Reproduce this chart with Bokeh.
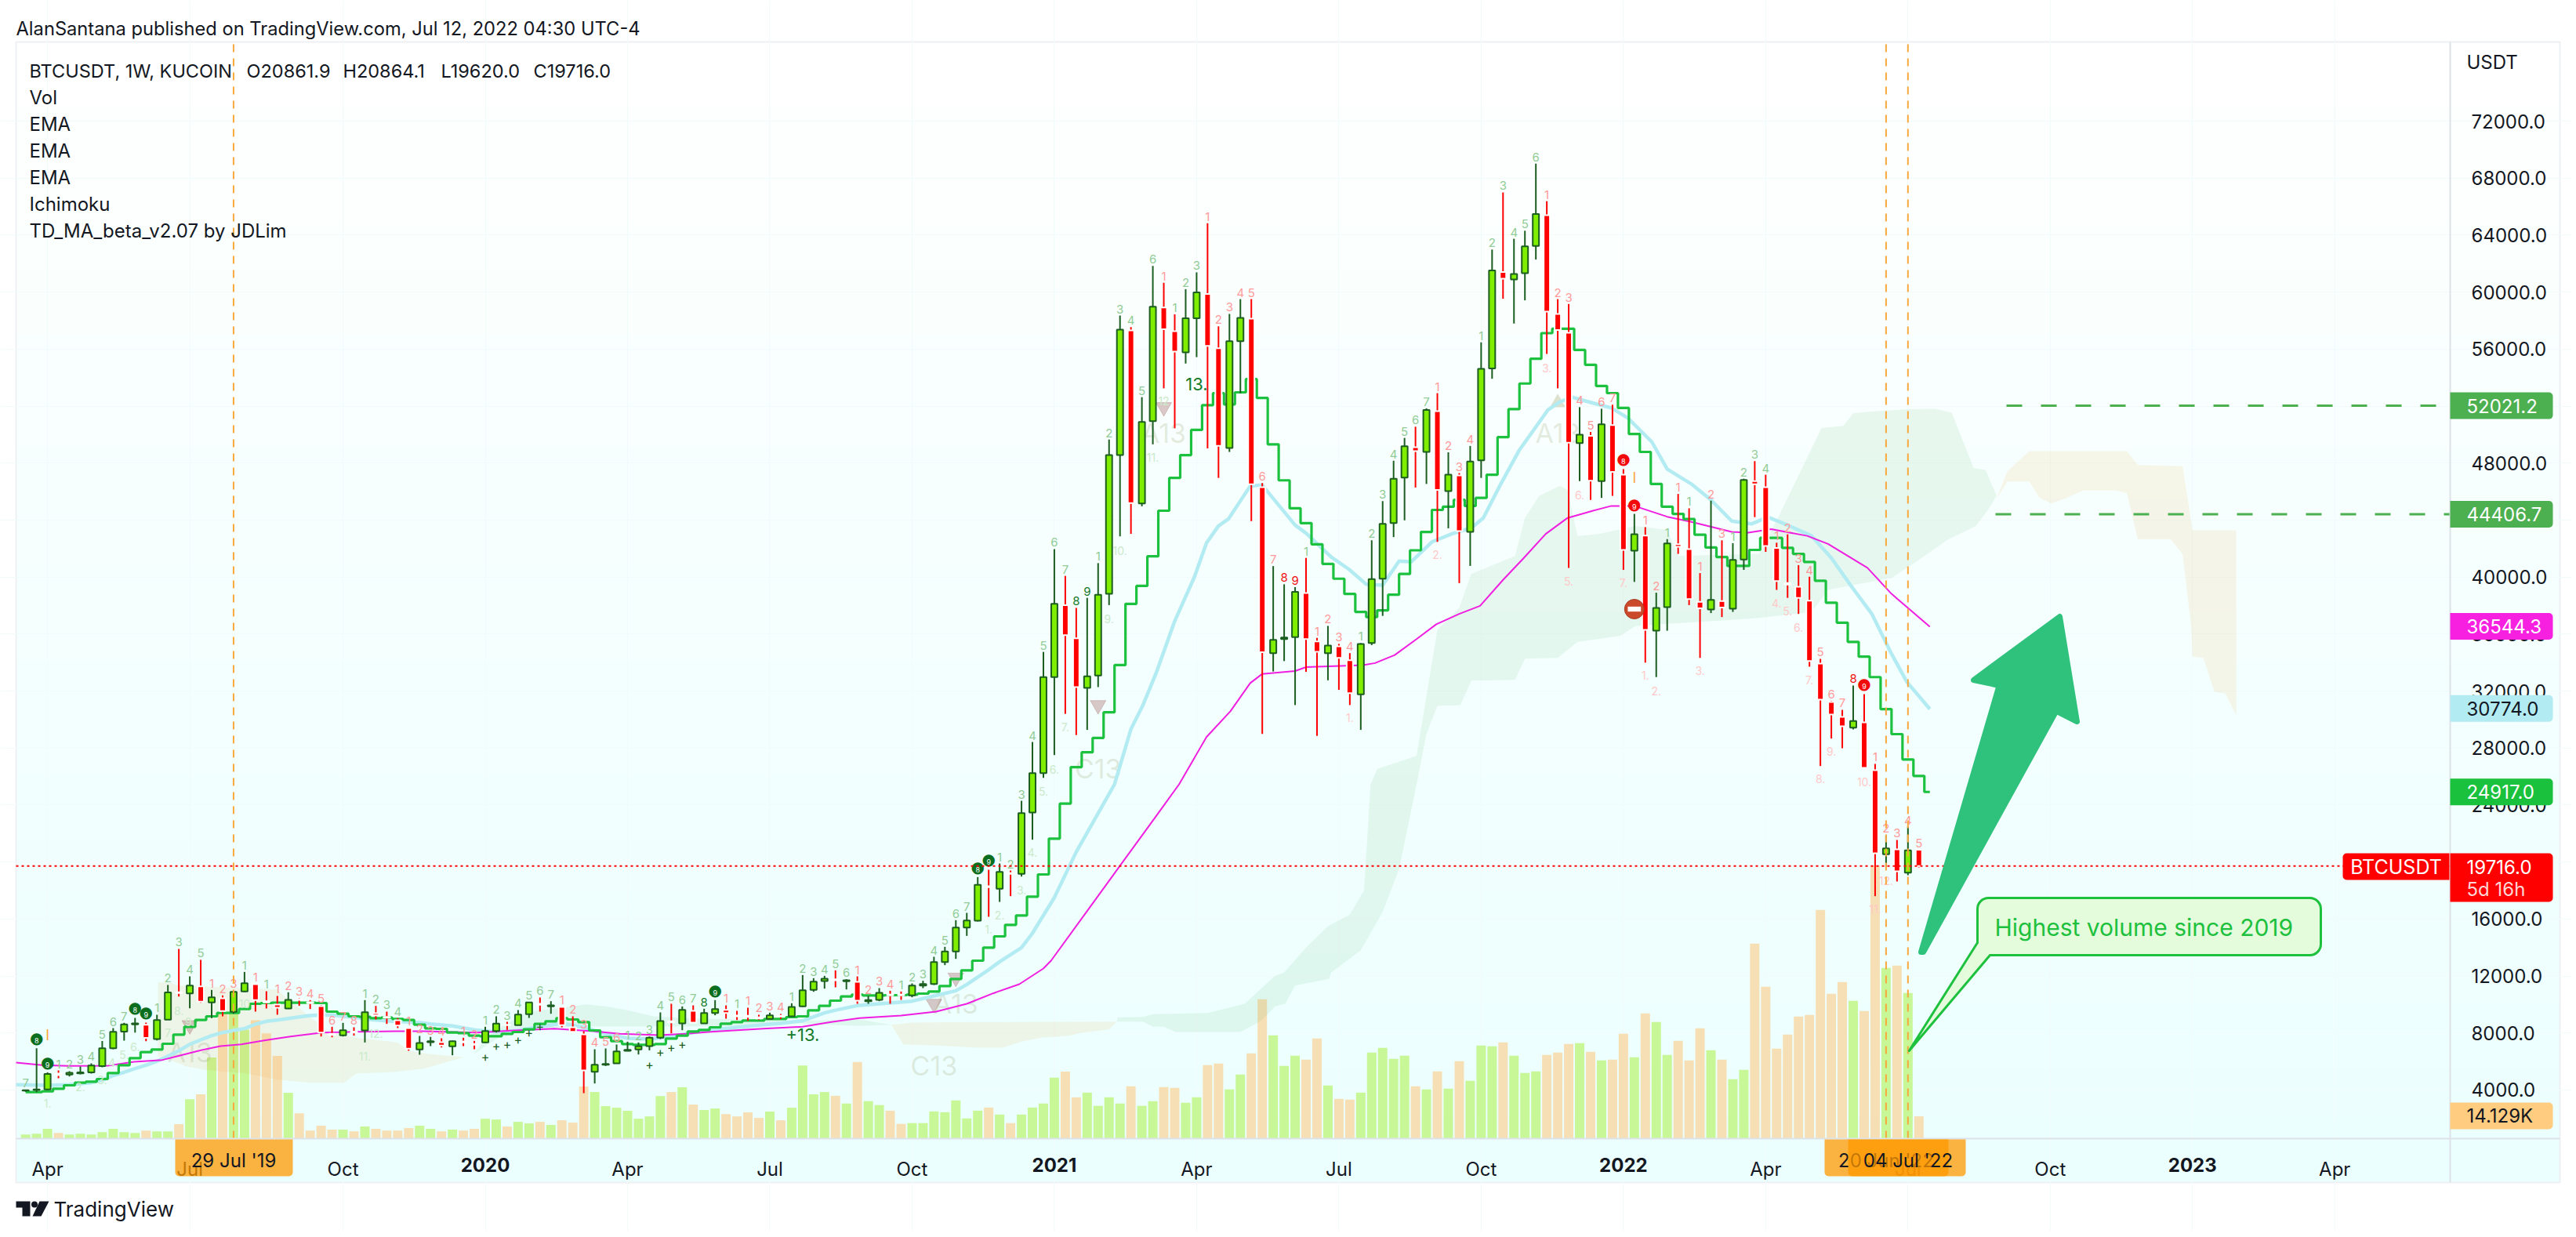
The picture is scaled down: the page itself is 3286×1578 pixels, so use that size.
from bokeh.plotting import figure
from bokeh.models import Range1d, LinearAxis, FixedTicker, NumeralTickFormatter, Grid
from bokeh.core.properties import value
from bokeh.embed import file_html
from bokeh.resources import INLINE

FONT = "Inter"

# ---------- data (week index 0 = first visible week, 172 = 04 Jul '22) ----------
opens = [3950,4000,4030,5150,5080,5170,5240,5680,6930,8100,8600,8580,7570,8930,10855,10780,11277,10140,10430,9480,
10910,11423,10230,9993,9720,10378,10158,9883,7940,7830,8100,8177,9388,9130,8892,8342,6840,7350,7350,7058,
7407,7223,7334,8140,8581,8544,9314,10048,9864,9828,8397,7902,5279,5775,5866,6747,6838,7077,7664,8819,
8672,9553,8672,9406,9626,9223,9204,9094,8984,9204,9168,9864,11020,11643,11771,11624,11588,10230,10322,10689,
10689,10634,11331,11441,12981,13715,15402,15879,18300,18117,19217,19162,23472,26241,32978,38031,35701,32220,33090,38817,
48557,57315,45160,50943,58915,57258,55771,58157,59869,56052,49062,56557,58129,46311,34662,35644,35785,38873,35476,34662,
35139,34157,31771,35364,39884,43785,46985,49118,48781,51645,46030,47125,43167,48192,54648,61413,60880,61329,63238,65399,
58466,57146,49399,49905,46732,50662,47181,41848,42915,36234,37890,42298,41960,38255,37722,38311,37778,41231,46732,46311,
42045,39575,39322,38340,33926,31230,30185,29433,29800,26444,20538,20887,19254,20862]
highs = [4010,6930,5240,5370,5320,5650,5870,7440,8340,8710,9060,8730,9280,11370,13900,11975,13130,11020,10635,11000,
12285,11450,10928,10598,10855,10450,10305,9956,8434,8710,8400,10305,9900,9498,9040,8380,7792,7720,7627,7460,
7664,7443,8434,9168,8782,9608,10158,10488,10231,9864,9168,8122,6857,6912,7187,7389,7333,7755,9443,10048,
9864,9938,9700,10305,9938,9553,9773,9278,9424,9333,10084,12065,11845,12010,12395,11771,11973,10597,11148,10964,
10909,11478,11661,13348,14045,15916,16429,18942,19456,19895,19400,24297,28424,34745,41960,40080,37834,38536,40978,49652,
58353,57540,52627,61834,60655,58438,60206,61385,64837,57595,58466,59504,59504,46592,40768,39490,39293,41343,35729,36571,
35307,34662,35364,42578,45329,48164,49764,50550,51841,52908,48754,47294,49202,56473,62985,67000,63743,64304,69020,66381,
59504,59167,51925,50185,51813,52094,47574,44431,43504,38901,42662,45834,44824,40276,45357,42578,42381,46901,48136,47181,
42409,42998,40838,40024,34257,31300,30680,32386,31781,26884,21877,21547,22482,20864]
lows = [3870,3850,4000,4820,4950,5100,5150,5590,6860,7460,8030,7425,7480,8930,10560,9735,10120,9040,9167,9350,
10873,9500,9718,9280,9680,9900,9680,7755,7700,7755,7810,7333,8947,8636,8342,6747,6472,7077,6985,6435,
7077,6857,7297,8030,8214,8544,9057,9498,9351,8397,8067,3776,4454,5683,5866,6710,6490,6783,7572,7975,
8196,8709,8654,9241,9002,8911,8856,8911,8966,8984,9131,9828,10891,11112,11202,11056,10047,10047,10230,10047,
10322,10505,11148,11367,12762,13201,14815,15824,16154,17200,17603,18978,21565,25905,27504,30395,28908,29272,32276,38031,
42859,43027,44965,49314,53244,50438,54985,55434,49034,46957,48781,52908,43925,28991,33371,34101,31014,33344,28851,32753,
32080,31014,29272,35224,37273,42803,43981,46283,46536,42466,43420,39574,40781,46957,53918,59533,57792,59420,62283,55659,
53245,40642,46732,45413,45554,45694,40502,39659,33990,32978,36234,41624,38031,34325,37470,37189,37554,40502,44206,41764,
39097,38536,37412,33708,26737,28663,27984,29305,26609,17604,19621,18631,19071,19620]
closes = [3985,4030,5130,5040,5210,5240,5720,6930,8085,8600,8670,7660,8910,10840,10800,11330,10195,10506,9534,10890,
11497,10305,10140,9773,10323,10323,10085,8030,7865,8196,8030,9461,9240,9076,8526,6893,7297,7425,7114,7425,
7334,7168,8140,8654,8544,9296,10140,9974,9938,8544,8085,5371,5775,5830,6710,6820,7058,7664,8837,8745,
9626,8727,9406,9681,9406,9168,9131,9021,9241,9149,9828,11002,11607,11808,11698,11698,10267,10304,10818,10634,
10634,11331,11441,12981,13715,15402,15897,18392,18227,19309,19162,23435,26241,32978,38115,35925,32276,33034,38761,48557,
57371,45188,50887,58971,57399,55827,58157,59981,56220,49202,56557,58185,46508,34718,35588,35756,38957,35644,34745,35196,
34326,31855,35307,39856,43729,46901,49175,48838,51729,46115,47181,43224,48108,54620,61525,60936,61273,63210,65483,58634,
57343,49427,49989,46760,50718,47378,41904,43000,36290,37834,42353,42129,38452,37807,38396,37863,41203,46817,46508,42185,
39715,39463,38536,34101,31396,30350,29525,29892,26609,20612,20960,19346,20813,19716]
volume_k = [2.5,3.0,6.1,3.5,2.5,3.0,2.5,4.0,6.1,4.0,3.5,5.0,4.5,4.5,9.1,25.2,28.3,52,81,81,70,76,67.6,53,29.3,16.1,5,8.1,5.6,5.6,4.5,7.6,6.1,5,5,6.6,8.1,
6.1,4.5,5.6,5,6.1,12.6,12.1,7.6,10.6,9.6,10.6,8.6,11.6,10.1,33.3,29.8,20.7,19.7,17.7,12.6,14.1,27.2,29.8,32.8,21.7,18.2,19.2,15.6,14.1,16.7,13.1,17.2,11.6,19.7,46.9,28.3,29.8,
27.4,22.4,49.1,23.9,21.4,17.8,9.3,9.8,9.8,17.3,16.8,24.4,12.8,17.8,19.8,15.3,9.8,15.3,19.8,22.4,39,43,26.4,29.4,20.9,26.4,22.4,33.5,20.9,23.9,33,32.5,22.9,26.4,47.1,48.1,31.5,41,54.7,89.5,66.3,46.6,53.2,50.6,64.3,34,25.4,24.9,29.4,55.2,58.2,
51.1,53.2,33.5,31.5,43.1,32,49.6,37,59.7,59.2,61.7,53.2,42,43.1,53.7,55.2,60.7,61.2,55.7,50.1,50.6,67.3,52.1,80.4,74.8,53.7,62.7,50.1,70.8,56.7,50.6,38,44.1,125.3,97.6,57.7,66.8,78.4,79.4,147,93,100.6,88.5,81.9,175.6,109.7,111.2,93.5,14.129]

step_ma = [3849,3849,3904,4087,4326,4509,4582,4766,5188,5738,6233,6655,6838,7242,7884,8434,8911,9168,9406,9406,9681,10048,10103,10121,10121,10121,10121,10103,9498,9351,9168,9131,9039,9076,8984,8911,8581,
8324,8287,8030,7994,7810,7774,7774,7939,8067,8250,8636,8819,9039,8947,8764,8177,7700,7425,7223,7168,7168,7223,7608,7810,8104,8214,8397,8654,8764,8874,8874,8984,8984,9113,9168,9589,9901,
10267,10561,10689,10634,10634,10652,10652,10689,10762,10909,11294,11789,12394,13073,13990,14779,15586,16246,17566,19125,21638,24100,
26662,27700,28711,30508,33820,38115,39378,41456,44655,46957,48557,50325,52066,52908,52122,52964,53890,52571,49314,46788,44823,43785,42297,40922,39883,38816,37553,37188,37666,38761,40219,41876,
43167,44711,44936,45413,44992,45554,47181,49820,51785,53581,55322,57118,57427,57427,55939,54901,53413,52908,51869,50045,48781,46536,44936,44431,44066,42971,42072,41399,40781,40781,41904,42746,42746,42044,41624,41062,39743,38201,36796,35448,34409,32978,30732,28975,27196,26040,24917]

ema_blue_i = [-0.87,2,4,6,7,8,9,10,11,12,13,14,15,16,17,18,19,20,21,22,23,24,25,26,27,28,29,30,31,32,33,34,35,36,37,39,41,43,45,47,49,51,53,55,57,59,61,63,65,67,69,71,73,74,76,78,81,83,85,86,88,89,91,92,94,96,99.5,101,102.1,103.3,105,106.8,107.9,109,109.9,111.9,113,114.5,116,117,119.3,120.9,122.5,124,125.5,126.6,128.5,130.3,132.1,133.2,134.7,136.5,139.1,140.2,141.3,143.1,144.9,146.4,148.6,150,152.2,154,155.9,157.7,159.2,161,163.2,165,166.8,168.7,170.5,171.9,174]
ema_blue_p = [4362,4326,4362,4509,4692,5004,5243,5499,5738,6013,6380,6747,7205,7517,7810,8030,8177,8306,8617,8819,8911,9021,9131,9222,9259,9259,9168,9094,8984,8911,8856,8801,8764,8727,8636,8489,8214,8067,8177,8434,8672,8397,7939,7627,7572,7755,8030,8250,8397,8544,8672,8856,9406,9600,9919,10047,10230,10597,10964,11400,12431,13000,13990,15000,17500,20700,25454,29329,31013,33258,36908,40005,42381,43588,44065,46395,46451,45048,43644,43083,41399,40557,39490,39434,41118,41062,42466,43027,43448,44150,46396,48922,51729,52290,52627,52234,51869,51167,49483,47574,46536,45413,43925,43729,44206,43644,42887,41343,39378,37413,34606,32641,30732]

ema_pink_i = [-0.87,1.5,3.9,7.5,9.9,12.5,13.9,15.8,17.8,19.7,21.8,24.2,27.1,30.2,33.8,36.4,41.2,44.7,48.3,51.9,54.3,57.9,60.3,62.6,67.4,71,73.6,76.2,80,83.2,86,88.4,90.8,93,93.7,97,100,103,105.4,107.9,110.1,111.9,113,116,117,122.2,123.3,125.1,127.1,128.9,131,132.9,135,136.9,138.9,140.9,143.1,144.9,147,150,152.2,155.9,157.4,159.5,162.8,164.7,168.3,170.5,174]
ema_pink_p = [5921,5738,5683,5701,5976,6105,6380,6747,7077,7205,7480,7755,8030,8085,8122,8122,8030,8177,8306,8122,7939,7847,7939,8085,8306,8434,8763,9039,9222,9497,10047,10780,11423,12523,13073,16560,19740,22900,25454,28767,30592,32557,33203,33400,33680,33820,33960,34522,35646,36683,37413,37975,39799,41343,43027,44150,44627,44992,44992,44234,43869,43168,43111,43364,42887,42326,40642,38817,36515]

cloud_a_up_i = [12.1,13.2,13.9,23,24.2,26.6,27.5,30.2,34,35,36.4,40,40.9]
cloud_a_up_p = [11552,11515,11332,11057,10231,8764,8122,7664,7333,6747,6563,6288,6471]
cloud_a_lo_i = [12.1,13.2,14.7,16.3,18.2,19.9,23,26.1,29.1,30.2,34,36.4,40,40.9]
cloud_a_lo_p = [6380,6105,5646,5426,5279,5188,4729,4509,4509,5151,5279,5499,6288,6471]

cloud_b_up_i = [40.9,42.1,43.6,46,49,51.2,53,55,57.4,60.3,65,71,76.1,79.1]
cloud_b_up_p = [6471,7664,8489,9498,9772,10011,9864,9589,9168,9039,8947,8856,8947,8580]
cloud_b_lo_i = [40.9,42.1,43.6,46,51,60,65,71,76,79.1]
cloud_b_lo_p = [6471,7113,7847,8306,8471,8452,8507,8672,8488,8580]

cloud_c_up_i = [79.1,81,87,99.7]
cloud_c_up_p = [8580,8727,8763,8800]
cloud_c_lo_i = [79.1,80.2,83.2,87,89.3,91,92.8,95.4,96.3,99,99.7]
cloud_c_lo_p = [8580,7205,7113,6966,6966,7388,7663,7810,7994,8250,8800]

cloud_d_up_i = [99.7,99.8,102.1,103,108,111.4,114.1,115,117,119,121,122.3,122.9,123.5,127.1,129,131,132.1,133,136.1,137,138.3,140.2,140.9,141.8,143.8,147.1,150,151,158.4,160.3,164.1,166.1,167,169.2,171.9,174.5,176,178,179.1,180.1]
cloud_d_up_p = [8800,9093,9130,9314,9405,10047,11973,12248,14000,15500,16300,18000,25454,26522,27448,36290,37834,40220,40501,41484,44150,45694,46396,46115,42887,43027,43589,43308,41484,41624,44431,50466,50606,51504,51645,51785,51813,51532,47658,47518,45694]
cloud_d_lo_i = [99.7,102.1,103,104,105.1,111,112.9,114.2,115.1,116,119.1,119.3,122,124,125.5,127.1,128,129,131.1,132.1,136.1,137,140,141.8,145.7,147.1,150,155.9,158.4,163.2,164.7,167.6,170.5,173,175.6,178.2,179.3,180.1]
cloud_d_lo_p = [8800,8800,8433,8433,8066,8066,8855,9864,10047,11331,11790,12248,13800,16500,19500,25454,29000,30957,31013,32726,32782,34270,34326,35448,35870,36572,36712,36993,37133,37554,39097,39519,39940,41203,42606,43589,44712,45694]

cloud_e_up_i = [180.1,181.1,183.1,192,193,197.1,198,202]
cloud_e_up_p = [45526,47434,48838,48838,47856,47772,43280,43280]
cloud_e_lo_i = [180.1,181.1,183.1,184,185.1,186.4,188,191,192,193,196,197.1,197.9,198,199,200,201,202]
cloud_e_lo_p = [45526,46705,46705,45582,45161,45526,46087,46087,45890,42662,42662,41596,36457,34420,34330,31950,31820,30310]

month_ticks = {2:"Apr",15:"Jul",29:"Oct",55:"Apr",68:"Jul",81:"Oct",107:"Apr",120:"Jul",133:"Oct",159:"Apr",172:"Jul",185:"Oct",211:"Apr"}
year_ticks = {42:"2020",94:"2021",146:"2022",198:"2023"}
price_ticks = [4000*k for k in range(1,19)]

td_runs = [("7","g"),("89","c"),("1234567","g"),("89","c"),("12345","g"),("123","r"),("1","g"),("1","r"),("1","g"),("12345678","r"),
("1234","g"),("1234","r"),(" ","g"),("12","r"),("1234567","g"),("123456","r"),("1234567","g"),("8","G"),("9","c"),("1","r"),("1","g"),
("1234","r"),("123456","g"),("1234","r"),("1234567","g"),("89","c"),("1234567","g"),("89","G"),("123456","g"),("1","r"),("123","g"),
("1234567","r"),("89","R"),("1","g"),("1234","r"),("1234567","g"),("1234","r"),("123456","g"),("1234567","r"),("89","d"),("12","r"),
("1","g"),("1","r"),("1","g"),("123","r"),("1234","g"),("1234567","r"),("8","R"),("9","d"),("12345","r")]

pale_i = [2,5,7,8,9,10,13,14,15,20,31,32,88,89,91,92,93,94,95,99,100,103,104,139,141,142,146,148,149,153,121,129,160,161,162,163,164,165,168,169,170]
pale_p = [3042,4215,4693,5921,6471,7021,8030,9553,8801,10048,6380,7939,15274,16246,18025,20648,24939,26522,29469,37048,41876,48416,52347,54677,39715,45750,39602,33118,32023,33427,30114,41595,38170,37609,36431,32782,25857,27746,25637,16705,18704]
pale_t = ["1.","2.","3.","4.","5.","6.","7","8.","9.","10","11.","12.","1.","2.","3.","4.","5.","6.","7.","9.","10.","11.","12","3.","5.","6.","7.","1.","2.","3.","1.","2.","4.","5.","6.","7.","8.","9.","10.","11.","12."]
pale_red = [0]*23 + [1]*18

plus_i = [42,43,44,45,46,47,57,58,59,60]
plus_p = [6325,7113,7205,7535,8030,8489,5775,6655,6985,7205]
tri_down_i = [15,85,83,98,104]
tri_down_p = [8544,11881,10047,31013,51925]
big_i = [15,85,83,98,104,140]
big_p = [6655,10047,5682,26576,50100,50100]
big_t = ["A13","A13","C13","C13","A13","A13"]
cross_weeks = [19,170,172]
level_prices = [52021.2,44406.7]
last_close = 19716.0

# ---------- pixel <-> data helpers for the page furniture ----------
def X(px): return (px-32.2)/13.96
def Y(py): return 72000-(py-154)*55.02

p = figure(width=3280,height=1570,x_range=Range1d(X(0),X(3280)),y_range=Range1d(Y(1570),Y(0)),
           output_backend="svg",toolbar_location=None,min_border=0,x_axis_type=None,y_axis_type=None,
           outline_line_color=None,background_fill_color="white",border_fill_color="white")
p.extra_y_ranges = {"vol":Range1d(-59740,732477)}

# gradient panel
N=70
for k in range(N):
    t0=53+(1508-53)*k/N; t1=53+(1508-53)*(k+1)/N
    f=k/(N-1)
    r=int(255-20*f); b=int(255-1*f)
    p.quad(left=[X(20)],right=[X(3265)],top=[Y(t0)],bottom=[Y(t1)],fill_color=f"#{r:02x}ff{b:02x}",line_color=f"#{r:02x}ff{b:02x}",line_width=1,level="image")
p.quad(left=[X(20)],right=[X(3265)],top=[Y(53)],bottom=[Y(1508)],fill_color=None,line_color="#eef0f4",line_width=2,level="image")

allm=sorted(list(month_ticks)+list(year_ticks))
p.add_layout(Grid(dimension=0,ticker=FixedTicker(ticks=allm),grid_line_color="#f1fbfb",bounds=(Y(1452),Y(53))))
p.add_layout(Grid(dimension=1,ticker=FixedTicker(ticks=price_ticks),grid_line_color="#f1fbfb",bounds=(X(20),X(3125))))

weeks=list(range(len(closes)))
up=[c>=o for o,c in zip(opens,closes)]
# volume
p.vbar(x=weeks,top=[v*1000 for v in volume_k],bottom=0,width=0.86,y_range_name="vol",
       color=["#c7f797" if u else "#f7dfb5" for u in up],line_color=None)
# clouds
def cloud(ui,up_,li,lo,color):
    p.patch(x=ui+li[::-1],y=up_+lo[::-1],fill_color=color,fill_alpha=0.095,line_color=None)
cloud(cloud_a_up_i,cloud_a_up_p,cloud_a_lo_i,cloud_a_lo_p,"#ef9215")
cloud(cloud_b_up_i,cloud_b_up_p,cloud_b_lo_i,cloud_b_lo_p,"#4caf50")
cloud(cloud_c_up_i,cloud_c_up_p,cloud_c_lo_i,cloud_c_lo_p,"#ef9215")
cloud(cloud_d_up_i,cloud_d_up_p,cloud_d_lo_i,cloud_d_lo_p,"#4caf50")
cloud(cloud_e_up_i,cloud_e_up_p,cloud_e_lo_i,cloud_e_lo_p,"#ef9215")

for tx,ty,tt in zip(big_i,big_p,big_t):
    p.text(x=[tx],y=[ty],text=[tt],text_font=value(FONT),text_font_size="34px",text_color="#9aa070",text_alpha=0.22,text_align="center",text_baseline="middle")
p.scatter(x=tri_down_i,y=tri_down_p,marker="inverted_triangle",size=20,fill_color="#a06060",fill_alpha=0.35,line_color="#a06060",line_alpha=0.3)
p.scatter(x=[140],y=[52234],marker="triangle",size=20,fill_color="#a0a060",fill_alpha=0.3,line_color=None)

# moving averages
p.line(ema_blue_i,ema_blue_p,line_color="#b2ebf2",line_width=4.5,line_join="round")
p.line(ema_pink_i,ema_pink_p,line_color="#f01ee0",line_width=2,line_join="round")
p.step(list(range(len(step_ma))),step_ma,mode="center",line_color="#1cc23f",line_width=3.2)

# candles
gi=[i for i in weeks if up[i]]; ri=[i for i in weeks if not up[i]]
p.segment(x0=gi,x1=gi,y0=[lows[i] for i in gi],y1=[highs[i] for i in gi],line_color="#1b5e20",line_width=2)
p.segment(x0=ri,x1=ri,y0=[lows[i] for i in ri],y1=[highs[i] for i in ri],line_color="#ff0000",line_width=2)
p.vbar(x=ri,bottom=[closes[i] for i in ri],top=[opens[i] for i in ri],width=0.57,fill_color="#ff0000",line_color="white",line_width=2)
p.vbar(x=gi,bottom=[opens[i] for i in gi],top=[closes[i] for i in gi],width=0.57,fill_color="#80ee00",line_color="#1b5e20",line_width=2)

# TD sequence labels
cols={"g":"#92cc96","r":"#ff9a9a","G":"#157a28","R":"#f01010"}
idx=0
for s,k in td_runs:
    for ch in s:
        if ch!=" ":
            if k in "cd":
                col="#0a6e1e" if k=="c" else "#f00a0a"
                p.text(x=[idx],y=[highs[idx]],text=["\u25cf"],text_color=col,text_font=value("DejaVu Sans"),text_font_size="20px",text_align="center",text_baseline="bottom",y_offset=-1)
                p.text(x=[idx],y=[highs[idx]],text=[ch],text_color="white",text_font=value(FONT),text_font_size="9px",text_align="center",text_baseline="bottom",y_offset=-6)
            else:
                p.text(x=[idx],y=[highs[idx]],text=[ch],text_color=cols[k],text_font=value(FONT),text_font_size="15px",text_align="center",text_baseline="bottom",y_offset=-3)
        idx+=1
p.text(x=pale_i,y=pale_p,text=pale_t,text_font=value(FONT),text_font_size="14px",text_align="center",text_baseline="middle",
       text_color=["#ffc9c9" if r else "#cbeacb" for r in pale_red])
p.text(x=plus_i,y=plus_p,text=["+"]*len(plus_i),text_font=value(FONT),text_font_size="16px",text_color="#1b5e20",text_align="center",text_baseline="middle")
p.text(x=[107,71],y=[53525,7900],text=["13.","+13."],text_font=value(FONT),text_font_size="22px",text_color="#157a28",text_align="center",text_baseline="middle")
p.text(x=[2,147],y=[7847,46957],text=["I","I"],text_font=value(FONT),text_font_size="18px",text_color="#f9a83c",text_align="center",text_baseline="middle")
p.scatter(x=[147],y=[37750],marker="circle",size=25,fill_color="#cc4a2c",line_color="#a83a20")
p.rect(x=[147],y=[37750],width=1.2,height=350,fill_color="white",line_color=None)

# crosshairs and levels
for w in cross_weeks:
    p.segment(x0=[w],x1=[w],y0=[Y(1452)],y1=[Y(53)],line_color="#f9a83c",line_width=2,line_dash="10 8")
p.segment(x0=[X(20)],x1=[X(3125)],y0=[last_close],y1=[last_close],line_color="#ff0000",line_width=2,line_dash="3 4")
p.segment(x0=[X(2559)],x1=[X(3125)],y0=[level_prices[0]],y1=[level_prices[0]],line_color="#4caf50",line_width=3,line_dash="20 24")
p.segment(x0=[X(2545)],x1=[X(3125)],y0=[level_prices[1]],y1=[level_prices[1]],line_color="#4caf50",line_width=3,line_dash="20 24")

# arrow
p.patch(x=[X(2450),X(2549.7),X(2517),X(2627),X(2649),X(2622.4),X(2453)],y=[Y(1214),Y(874),Y(867),Y(786),Y(920),Y(906.7),Y(1214)],
        fill_color="#2fc27d",line_color="#2fc27d",line_width=7,line_join="round")

# callout
p.quad(left=[X(2522)],right=[X(2960)],top=[Y(1145)],bottom=[Y(1218)],fill_color="#e4fbdc",line_color="#1dc13e",line_width=3,border_radius=14,level="annotation")
p.patch(x=[X(2522),X(2538),X(2434.8)],y=[Y(1202),Y(1218),Y(1340)],fill_color="#e4fbdc",line_color=None,level="annotation")
p.line(x=[X(2522),X(2434.8),X(2538)],y=[Y(1202),Y(1340),Y(1218)],line_color="#1dc13e",line_width=3,line_join="round",level="annotation")

def txt(x,y,s,size=24,color="#131722",align="left",style="normal",font=FONT):
    p.text(x=[X(x)],y=[Y(y)],text=[s],text_font=value(font),text_font_size=f"{size}px",text_color=color,text_align=align,text_baseline="middle",text_font_style=style,level="annotation")

txt(2544,1182,"Highest volume since 2019",size=30,color="#1dc13e")

# axes
ma=LinearAxis(fixed_location=Y(1452),ticker=FixedTicker(ticks=list(month_ticks)),major_label_overrides=month_ticks,bounds=(X(20),X(3265)),
   axis_line_color="#dde2e8",axis_line_width=2,major_tick_line_color=None,minor_tick_line_color=None,major_label_standoff=18,
   major_label_text_font=FONT,major_label_text_font_size="24px",major_label_text_color="#131722")
p.add_layout(ma,"below")
ya=LinearAxis(fixed_location=Y(1452),ticker=FixedTicker(ticks=list(year_ticks)),major_label_overrides=year_ticks,axis_line_color=None,
   major_tick_line_color=None,minor_tick_line_color=None,major_label_standoff=18,major_label_text_font=FONT,major_label_text_font_size="24px",
   major_label_text_font_style="bold",major_label_text_color="#131722")
p.add_layout(ya,"below")
pa=LinearAxis(fixed_location=X(3125),ticker=FixedTicker(ticks=price_ticks),formatter=NumeralTickFormatter(format="0.0"),bounds=(Y(1508),Y(53)),
   axis_line_color="#dde2e8",axis_line_width=2,major_tick_line_color=None,minor_tick_line_color=None,major_label_standoff=21,
   major_label_text_font=FONT,major_label_text_font_size="24px",major_label_text_color="#131722")
p.add_layout(pa,"right")

# price tags
def tag(y0,y1,x0,x1,color,radius,alpha=1.0):
    p.quad(left=[X(x0)],right=[X(x1)],top=[Y(y0)],bottom=[Y(y1)],fill_color=color,fill_alpha=alpha,line_color=None,border_radius=radius,level="annotation")
def ptag(yc,color,s,tc):
    tag(yc-17,yc+17,3125,3256,color,(0,5,5,0))
    txt(3146,yc,s,color=tc)
def yof(v): return 154+(72000-v)/55.02
ptag(yof(52021.2),"#4caf50","52021.2","white")
ptag(yof(44406.7),"#4caf50","44406.7","white")
ptag(yof(36544.3),"#f720e0","36544.3","white")
ptag(yof(30774.0),"#b2ebf2","30774.0","#131722")
ptag(yof(24917.0),"#1ac13c","24917.0","white")
ptag(1423,"#ffcc80","14.129K","#131722")
tag(1088,1150,3125,3256,"#ff0000",(0,5,5,0))
txt(3146,1105,"19716.0",color="white")
txt(3146,1134,"5d 16h",color="#ffd6d6")
tag(1088,1122,2988,3124,"#ff0000",(5,0,0,5))
txt(3056,1105,"BTCUSDT",size=25,color="white",align="center")
txt(3146,79,"USDT")

# crosshair time labels
for c,s,x0,x1 in [(297.5,"29 Jul '19",223,373),(2405.4,"20 Jun '22",2327,2485),(2433.4,"04 Jul '22",2357,2507)]:
    tag(1453,1500,x0,x1,"#ff9800",(0,0,5,5),alpha=0.75)
    txt(c,1480,s,align="center")

# legend + title + logo
for xx,s in zip([37,314,437,562,680],["BTCUSDT, 1W, KUCOIN","O20861.9","H20864.1","L19620.0","C19716.0"]):
    txt(xx,90,s,size=23.5)
for yy,s in zip([124,158,192,226,260,294],["Vol","EMA","EMA","EMA","Ichimoku","TD_MA_beta_v2.07 by JDLim"]):
    txt(37,yy,s,size=24)
txt(20,36,"AlanSantana published on TradingView.com, Jul 12, 2022 04:30 UTC-4",size=23.7)
p.patch(x=[X(20),X(38),X(38),X(28),X(28),X(20)],y=[Y(1532),Y(1532),Y(1551),Y(1551),Y(1540),Y(1540)],fill_color="#131722",line_color=None)
p.patch(x=[X(50),X(62),X(52),X(41)],y=[Y(1532),Y(1532),Y(1551),Y(1551)],fill_color="#131722",line_color=None)
p.scatter(x=[X(43.5)],y=[Y(1536)],marker="circle",size=8,fill_color="#131722",line_color=None)
txt(68,1542,"TradingView",size=26)

open("out.html","w").write(file_html(p,INLINE))
